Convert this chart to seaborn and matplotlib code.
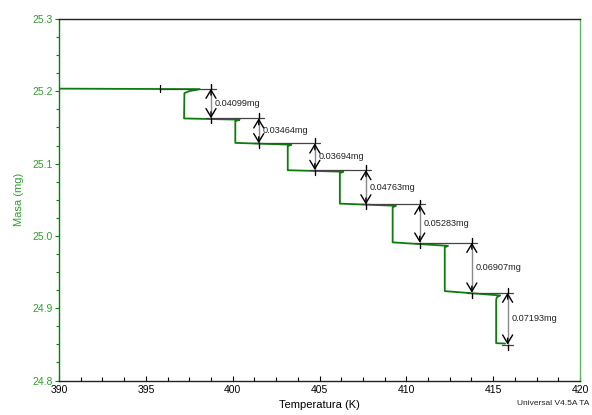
import matplotlib
matplotlib.use("Agg")
import matplotlib.pyplot as plt
import numpy as np
import pandas as pd
import seaborn as sns
from matplotlib.ticker import MultipleLocator, FormatStrFormatter

# Mass trace (temperature in K, mass in mg) of the stepwise heating run
curve_temp = [390.0, 398.1, 397.5, 397.22, 397.2,
              400.4, 400.15, 400.15,
              403.38, 403.17, 403.17,
              406.37, 406.17, 406.17,
              409.4, 409.21, 409.21,
              412.4, 412.21, 412.21,
              415.4, 415.2, 415.17, 415.17, 415.68]
curve_mass = [25.2037, 25.2030, 25.2003, 25.1975, 25.1625,
              25.1608, 25.1587, 25.1287,
              25.1262, 25.1241, 25.0909,
              25.0888, 25.0867, 25.0447,
              25.0417, 25.0396, 24.9911,
              24.9863, 24.9842, 24.9237,
              24.9177, 24.9150, 24.9108, 24.8517, 24.8512]

# Step analysis: cursor start, arrow positions and measured mass losses
start_mass = 25.2037
cursor_temp = 395.8
step_temp = [398.75, 401.5, 404.73, 407.67, 410.77, 413.77, 415.83]
step_loss = [0.04099, 0.03464, 0.03694, 0.04763, 0.05283, 0.06907, 0.07193]

x_ticks = [390, 395, 400, 405, 410, 415, 420]
y_ticks = [24.8, 24.9, 25.0, 25.1, 25.2, 25.3]

GREEN = "#0a7d0a"
LABEL_GREEN = "#2f9e2f"
RIGHT_GREEN = "#5cba5c"

sns.set_theme(style="white")
plt.rcParams["font.family"] = ["Liberation Sans", "DejaVu Sans"]

fig = plt.figure(figsize=(5.92, 4.15), dpi=100)
ax = fig.add_axes([0.0997, 0.0830, 0.8801, 0.8712])

df = pd.DataFrame({"Temperatura": curve_temp, "Masa": curve_mass})
sns.lineplot(data=df, x="Temperatura", y="Masa", sort=False, estimator=None,
             color=GREEN, lw=1.3, ax=ax, zorder=3)

# Levels between steps follow from the measured losses
levels = start_mass - np.concatenate([[0.0], np.cumsum(step_loss)])

ref_kw = dict(color="#444444", lw=0.9, zorder=4)
tick_h = 0.0068
# starting level, from the cursor to the first arrow
ax.plot([cursor_temp, step_temp[0] + 0.3], [levels[0], levels[0]], **ref_kw)
ax.plot([cursor_temp, cursor_temp], [levels[0] - 0.005, levels[0] + 0.005],
        color="black", lw=0.9, zorder=5)
for i, t in enumerate(step_temp):
    top, bot = levels[i], levels[i + 1]
    nxt = step_temp[i + 1] + 0.3 if i + 1 < len(step_temp) else t + 0.3
    ax.plot([t - 0.3, nxt], [bot, bot], **ref_kw)
    # shaft
    ax.plot([t, t], [top, bot], color="#8a8a8a", lw=1.0, zorder=4)
    # crosshair extensions
    ax.plot([t, t], [top, top + tick_h], color="black", lw=1.0, zorder=5)
    ax.plot([t, t], [bot - tick_h, bot], color="black", lw=1.0, zorder=5)
    # open arrow heads at both ends
    for tip, tail in ((top, top - 0.009), (bot, bot + 0.009)):
        ax.annotate("", xy=(t, tip), xytext=(t, tail),
                    arrowprops=dict(arrowstyle="->,head_length=0.5,head_width=0.3",
                                    color="black", lw=1.0,
                                    shrinkA=0, shrinkB=0), zorder=6)
    ax.text(t + 0.22, (top + bot) / 2, f"{step_loss[i]:.5f}mg",
            fontsize=6.6, color="#222222", ha="left", va="center", zorder=6)

ax.set_xlim(390, 420)
ax.set_ylim(24.8, 25.3)
ax.set_xticks(x_ticks)
ax.set_yticks(y_ticks)
ax.xaxis.set_minor_locator(MultipleLocator(1.25))
ax.yaxis.set_minor_locator(MultipleLocator(0.025))
ax.yaxis.set_major_formatter(FormatStrFormatter("%.1f"))
ax.xaxis.set_major_formatter(FormatStrFormatter("%d"))

ax.tick_params(axis="x", which="both", direction="in", colors="black",
               labelsize=7.5, pad=3, bottom=True, top=False)
ax.tick_params(axis="x", which="major", length=3.5, width=0.8)
ax.tick_params(axis="x", which="minor", length=3, width=0.8)
ax.tick_params(axis="y", which="both", direction="out", colors=GREEN,
               labelcolor=LABEL_GREEN, labelsize=7.5, pad=1.5, left=True, right=False)
ax.tick_params(axis="y", which="major", length=3, width=0.8)
ax.tick_params(axis="y", which="minor", length=2, width=0.8)

ax.spines["left"].set_color(GREEN)
ax.spines["right"].set_color(RIGHT_GREEN)
ax.spines["top"].set_color("#222222")
ax.spines["bottom"].set_color("#222222")
for s in ax.spines.values():
    s.set_linewidth(1.0)

ax.set_xlabel("Temperatura (K)", fontsize=8, color="black", labelpad=4)
ax.set_ylabel("Masa (mg)", fontsize=8, color=LABEL_GREEN, labelpad=6)

fig.text(0.995, 0.027, "Universal V4.5A TA", fontsize=6, color="#222222",
         ha="right", va="center")

fig.savefig("out.png", dpi=100)
